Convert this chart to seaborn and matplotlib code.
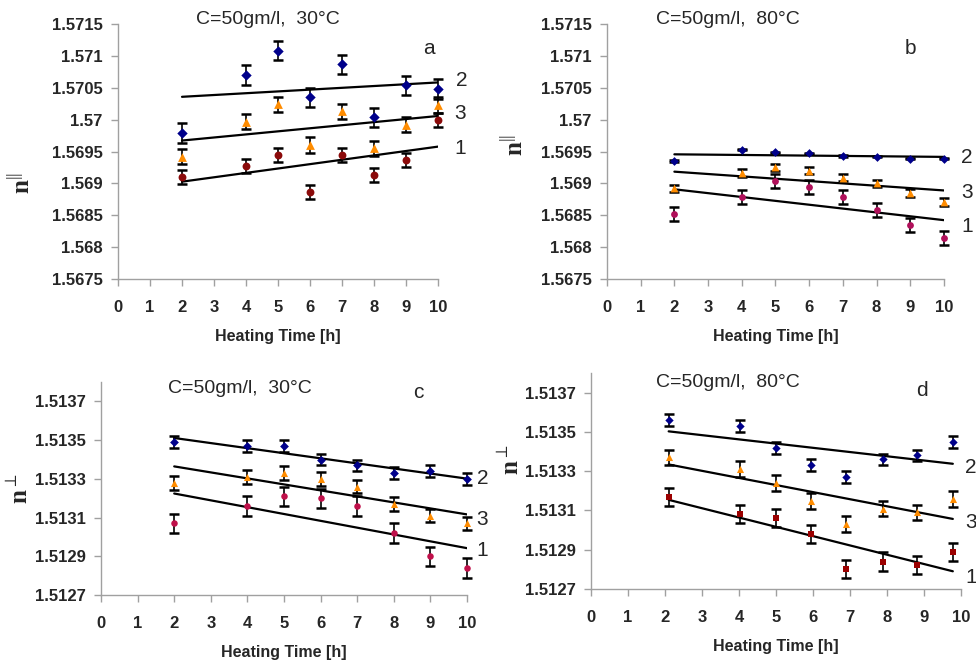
import matplotlib
matplotlib.use("Agg")
import numpy as np
import pandas as pd
import matplotlib.pyplot as plt
import seaborn as sns

# -------------------
# Data
# -------------------
hours = [2, 4, 5, 6, 7, 8, 9, 10]
hours_d = [2.1, 4.03, 5.0, 5.94, 6.9, 7.88, 8.8, 9.78]

a_s1 = [1.56910, 1.56928, 1.56944, 1.56886, 1.56944, 1.56913, 1.56937, 1.57000]
a_s2 = [1.56979, 1.57070, 1.57108, 1.57035, 1.57087, 1.57004, 1.57054, 1.57048]
a_s3 = [1.56942, 1.56997, 1.57024, 1.56960, 1.57013, 1.56955, 1.56992, 1.57023]
a_err = [0.00011, 0.00015, 0.00012]

b_s1 = [1.56852, 1.56878, 1.56903, 1.56894, 1.56879, 1.56859, 1.56835, 1.56814]
b_s2 = [1.56935, 1.56953, 1.56949, 1.56947, 1.56943, 1.56942, 1.56939, 1.56939]
b_s3 = [1.56892, 1.56916, 1.56925, 1.56920, 1.56909, 1.56900, 1.56885, 1.56871]
b_err = [0.00011, 0.00001, 0.00006]

c_s1 = [1.51307, 1.51316, 1.51321, 1.51320, 1.51316, 1.51302, 1.51290, 1.51284]
c_s2 = [1.51349, 1.51347, 1.51347, 1.51340, 1.51337, 1.51333, 1.51334, 1.51330]
c_s3 = [1.51328, 1.51331, 1.51333, 1.51330, 1.51326, 1.51317, 1.51311, 1.51307]
c_err = [0.00005, 0.00003, 0.000035]

d_s1 = [1.51317, 1.51308, 1.51306, 1.51298, 1.51280, 1.51284, 1.51282, 1.51289]
d_s2 = [1.51356, 1.51353, 1.51342, 1.51333, 1.51327, 1.51336, 1.51338, 1.51345]
d_s3 = [1.51337, 1.51331, 1.51324, 1.51315, 1.51303, 1.51311, 1.51309, 1.51316]
d_err = [0.000046, 0.00003, 0.00004]

series_names = ["1", "2", "3"]
x_ticks = list(range(0, 11))
par_ticks = [1.5675, 1.568, 1.5685, 1.569, 1.5695, 1.57, 1.5705, 1.571, 1.5715]
perp_ticks = [1.5127, 1.5129, 1.5131, 1.5133, 1.5135, 1.5137]

BLUE = "#00008B"
ORANGE = "#FF8C00"
SPINE = "#a0a0a0"

sns.set_style("ticks")
plt.rcParams["font.family"] = ["Liberation Sans", "DejaVu Sans"]
plt.rcParams["mathtext.fontset"] = "custom"
plt.rcParams["mathtext.rm"] = "Liberation Serif"
plt.rcParams["mathtext.bf"] = "Liberation Serif:bold"


def make_frame(x, s1, s2, s3, errs):
    rows = []
    for name, ys, e in zip(series_names, [s1, s2, s3], errs):
        for xi, yi in zip(x, ys):
            rows.append({"Hours": xi, "n": yi, "err": e, "series": name})
    return pd.DataFrame(rows)


# -------------------
# One panel
# -------------------
def draw_panel(ax, df, red, red_marker, sizes, ticks, ylim, ylabel, label_xy,
               title, title_xy, letter, letter_xy, tags):
    styles = {"1": (red_marker, red, sizes[0]),
              "2": ("D", BLUE, sizes[1]),
              "3": ("^", ORANGE, sizes[2])}
    for name in series_names:
        sub = df[df["series"] == name]
        marker, color, size = styles[name]
        sns.regplot(data=sub, x="Hours", y="n", scatter=False, ci=None,
                    color="black", line_kws={"lw": 1.6, "zorder": 2}, ax=ax)
        ax.errorbar(sub["Hours"], sub["n"], yerr=sub["err"], fmt="none",
                    ecolor="black", elinewidth=1.2, capsize=3.6, capthick=1.8,
                    zorder=3, clip_on=False)
        sns.scatterplot(data=sub, x="Hours", y="n", marker=marker, color=color,
                        s=size, linewidth=0, ax=ax, zorder=4, clip_on=False)

    ax.set_xlim(0, 10)
    ax.set_ylim(*ylim)
    ax.set_xticks(x_ticks)
    ax.set_yticks(ticks)
    ax.set_yticklabels(["%g" % t for t in ticks])
    for lab in ax.get_xticklabels() + ax.get_yticklabels():
        lab.set_fontweight("bold")
        lab.set_fontsize(12)
    ax.tick_params(axis="y", color=SPINE, length=5, width=1, pad=6)
    ax.tick_params(axis="x", color=SPINE, length=5, width=1, pad=10)
    sns.despine(ax=ax)
    for sp in ["left", "bottom"]:
        ax.spines[sp].set_color(SPINE)
        ax.spines[sp].set_linewidth(1)
    ax.grid(False)

    ax.set_xlabel("Heating Time [h]", fontsize=11.5, fontweight="bold", labelpad=10)
    ax.set_ylabel(ylabel, fontsize=18)
    ax.yaxis.set_label_coords(*label_xy)

    ax.text(title_xy[0], title_xy[1], title, transform=ax.transAxes,
            ha="center", va="center", fontsize=14)
    ax.text(letter_xy[0], letter_xy[1], letter, transform=ax.transAxes,
            ha="center", va="center", fontsize=15)
    for name, (tx, ty) in zip(series_names, tags):
        ax.text(tx, ty, name, ha="center", va="center", fontsize=15,
                clip_on=False)


fig = plt.figure(figsize=(9.76, 6.61), dpi=100)
ax_a = fig.add_axes([0.1209, 0.5779, 0.3279, 0.3858])
ax_b = fig.add_axes([0.6219, 0.5779, 0.3453, 0.3858])
ax_c = fig.add_axes([0.1035, 0.0998, 0.3750, 0.3222])
ax_d = fig.add_axes([0.6055, 0.1089, 0.3791, 0.3268])

n_par = r"$\mathbf{n}^{||}$"
n_perp = r"$\mathbf{n}^{\perp}$"

draw_panel(ax_a, make_frame(hours, a_s1, a_s2, a_s3, a_err), "#8B0A0A", "o",
           [32, 28, 40], par_ticks, (1.5675, 1.5715), n_par, (-0.26, 0.376),
           "C=50gm/l,  30°C", (0.469, 1.016), "a", (0.972, 0.902),
           [(10.7, 1.56954), (10.75, 1.57062), (10.7, 1.57010)])

draw_panel(ax_b, make_frame(hours, b_s1, b_s2, b_s3, b_err), "#B0105A", "o",
           [24, 20, 32], par_ticks, (1.5675, 1.5715), n_par, (-0.234, 0.525),
           "C=50gm/l,  80°C", (0.359, 1.016), "b", (0.899, 0.902),
           [(10.68, 1.56833), (10.68, 1.56941), (10.68, 1.56885)])

draw_panel(ax_c, make_frame(hours, c_s1, c_s2, c_s3, c_err), "#C0104A", "o",
           [22, 20, 26], perp_ticks, (1.5127, 1.5138), n_perp, (-0.186, 0.502),
           "C=50gm/l,  30°C", (0.38, 0.972), "c", (0.866, 0.953),
           [(10.42, 1.51293), (10.42, 1.51330), (10.42, 1.51309)])

draw_panel(ax_d, make_frame(hours_d, d_s1, d_s2, d_s3, d_err), "#9B0000", "s",
           [22, 18, 26], perp_ticks, (1.5127, 1.5138), n_perp, (-0.181, 0.597),
           "C=50gm/l,  80°C", (0.37, 0.958), "d", (0.895, 0.921),
           [(10.27, 1.51276), (10.27, 1.51332), (10.27, 1.51304)])

fig.savefig("out.png", dpi=100)
